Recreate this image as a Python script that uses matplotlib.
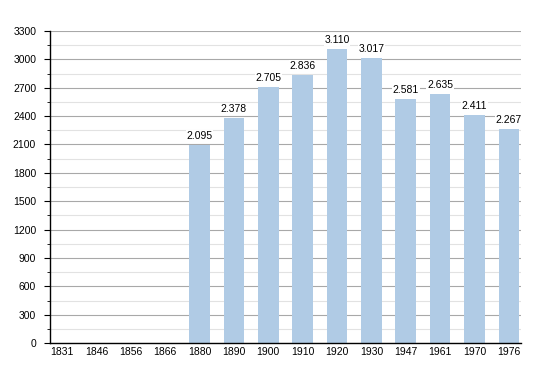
import numpy as np
from matplotlib import pyplot as plt
from matplotlib.ticker import MultipleLocator

plt.rcParams['font.family'] = ['Liberation Sans', 'DejaVu Sans']

years = ["1831", "1846", "1856", "1866", "1880", "1890", "1900",
         "1910", "1920", "1930", "1947", "1961", "1970", "1976"]
pop = [None, None, None, None, 2095, 2378, 2705,
       2836, 3110, 3017, 2581, 2635, 2411, 2267]

fig = plt.figure(figsize=(5.5, 3.73), dpi=100)
ax = fig.add_axes([0.091, 0.080, 0.856, 0.837])

x = np.arange(len(years))
vals = np.array([v if v is not None else 0 for v in pop], dtype=float)

ax.yaxis.set_major_locator(MultipleLocator(300))
ax.yaxis.set_minor_locator(MultipleLocator(150))
ax.grid(axis='y', which='major', color='#a8a8a8', lw=0.8, zorder=0)
ax.grid(axis='y', which='minor', color='#e2e2e2', lw=0.8, zorder=0)
ax.set_axisbelow(True)

ax.bar(x, vals, width=0.6, color='#b0cbe5', zorder=2)

for xi, v in zip(x, pop):
    if v is None:
        continue
    s = "{:,}".format(v).replace(",", ".")
    ax.text(xi, v + 40, s, ha='center', va='bottom', fontsize=7.5,
            bbox=dict(facecolor='white', edgecolor='none', pad=0.5), zorder=3)

ax.set_xticks(x)
ax.set_xticklabels(years)
ax.set_xlim(-0.35, len(years) - 0.65)
ax.set_ylim(0, 3300)

for s in ['top', 'right']:
    ax.spines[s].set_visible(False)
ax.spines['left'].set_linewidth(1.0)
ax.spines['bottom'].set_linewidth(1.0)
ax.tick_params(axis='x', length=0, labelsize=7.5, pad=3)
ax.tick_params(axis='y', which='major', length=4, labelsize=7.5, pad=6)
ax.tick_params(axis='y', which='minor', length=2)

fig.savefig("out.png", dpi=100)
